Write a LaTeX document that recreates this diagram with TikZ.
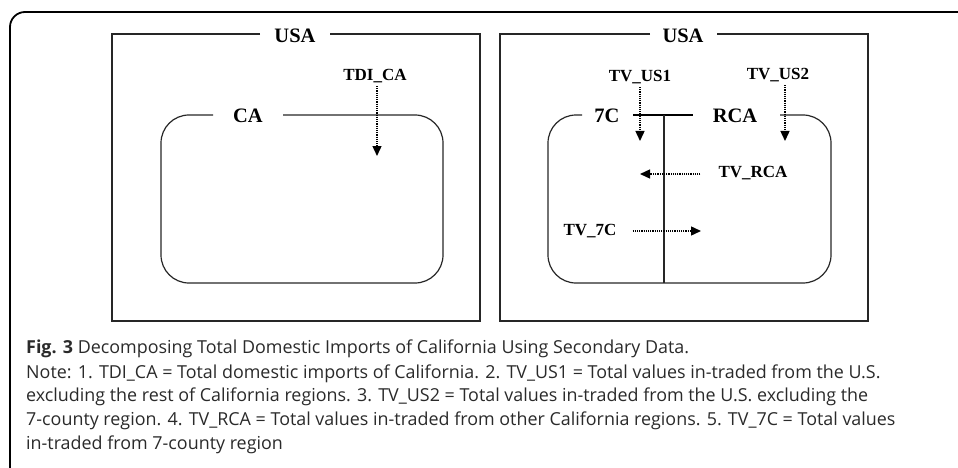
\documentclass[tikz,border=0pt]{standalone}
\usepackage{fontspec}
\setmainfont{Liberation Serif}
\newfontfamily\capfont{Open Sans}
\usetikzlibrary{arrows.meta}
\definecolor{captxt}{HTML}{2A2A2A}
\tikzset{
  region/.style={line width=1.2pt, draw=black!85},
  bigl/.style={font=\fontsize{20.5}{22}\selectfont\bfseries, inner sep=0pt},
  smalll/.style={font=\fontsize{17}{19}\selectfont\bfseries, inner sep=0pt},
  flow/.style={dash pattern=on 1.1pt off 1.1pt, line width=1.4pt, -{Triangle[length=10pt,width=9pt]}},
  capline/.style={anchor=base west, inner sep=0pt, text=captxt, font=\capfont\fontsize{17.9}{20}\selectfont}
}
\begin{document}
\begin{tikzpicture}[x=1pt,y=-1pt]
\useasboundingbox (0,0) rectangle (958,468);
% outer frame
\draw[line width=1.8pt, rounded corners=15pt] (10,470) -- (10,12) -- (960,12);
% left panel
\draw[region] (260,34) -- (112,34) -- (112,321) -- (480,321) -- (480,34) -- (330,34);
\node[bigl] (usaL) at (295,36) {USA};
\draw[region, rounded corners=28pt] (213,115) -- (161,115) -- (161,283) -- (443,283) -- (443,115) -- (283,115);
\node[bigl] (ca) at (248,116) {CA};
\node[smalll] (tdi) at (375,76) {TDI\_CA};
\coordinate (tdiend) at (377,156);
\draw[flow] (tdi.south -| tdiend) ++(0,3) -- (tdiend);
% right panel
\draw[region] (650,34) -- (500,34) -- (500,321) -- (868,321) -- (868,34) -- (717,34);
\node[bigl] (usaR) at (683,36) {USA};
\draw[region, rounded corners=28pt] (582,115) -- (548,115) -- (548,283) -- (831,283) -- (831,115) -- (780,115);
\draw[line width=2pt] (633,115) -- (693,115);
\draw[region] (664,115) -- (664,283);
\node[bigl] (sevenc) at (607,116) {7C};
\node[bigl] (rca) at (735,116) {RCA};
\node[smalll] (us1) at (640,77) {TV\_US1};
\node[smalll] (us2) at (778,75) {TV\_US2};
\node[smalll] (tvrca) at (753,173) {TV\_RCA};
\node[smalll] (tv7c) at (590,231) {TV\_7C};
\coordinate (us1end) at (640,141);
\coordinate (us2end) at (785,141);
\coordinate (rcaend) at (640,174);
\coordinate (c7end) at (701,231);
\draw[flow] (us1.south -| us1end) ++(0,3) -- (us1end);
\draw[flow] (us2.south -| us2end) ++(0,3) -- (us2end);
\draw[flow] (tvrca.west |- rcaend) ++(-18,0) -- (rcaend);
\draw[flow] (tv7c.east |- c7end) ++(16,0) -- (c7end);
% caption
\node[capline] (cap1) at (26,353) {\textbf{Fig. 3} Decomposing Total Domestic Imports of California Using Secondary Data.};
\node[capline] (cap2) at (26,378) {Note: 1. TDI\_CA = Total domestic imports of California. 2. TV\_US1 = Total values in-traded from the U.S.};
\node[capline] (cap3) at (26,401) {excluding the rest of California regions. 3. TV\_US2 = Total values in-traded from the U.S. excluding the};
\node[capline] (cap4) at (26,425) {7-county region. 4. TV\_RCA = Total values in-traded from other California regions. 5. TV\_7C = Total values};
\node[capline] (cap5) at (26,449) {in-traded from 7-county region};
\end{tikzpicture}
\end{document}
